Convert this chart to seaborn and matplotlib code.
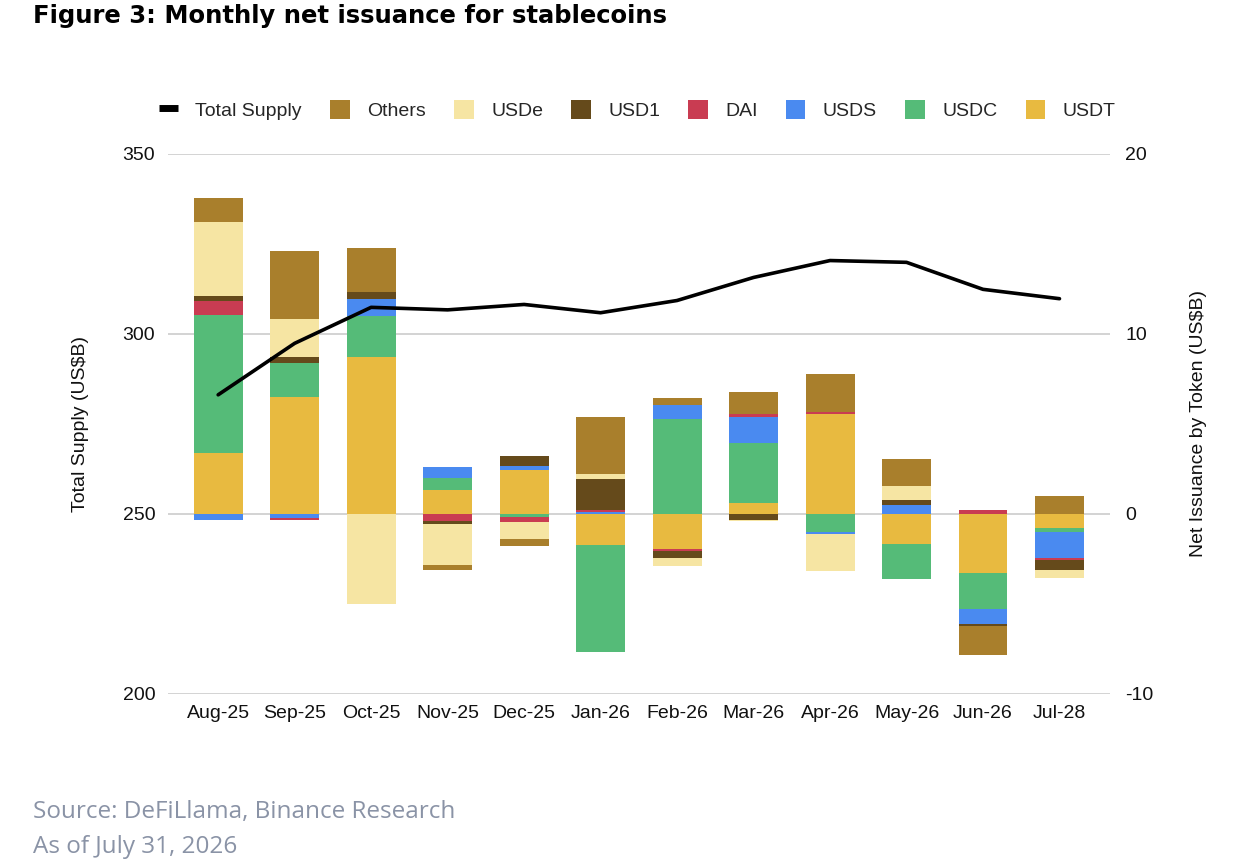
import numpy as np
import pandas as pd
import seaborn as sns
import matplotlib.pyplot as plt
from matplotlib.lines import Line2D
from matplotlib.patches import Patch

months = ['Aug-25', 'Sep-25', 'Oct-25', 'Nov-25', 'Dec-25', 'Jan-26',
          'Feb-26', 'Mar-26', 'Apr-26', 'May-26', 'Jun-26', 'Jul-28']

# net issuance by token (US$B)
usdt = [3.37, 6.52, 8.70, 1.33, 2.46, -1.70, -1.94, 0.63, 5.56, -1.69, -3.28, -0.80]
usdc = [7.70, 1.89, 2.30, 0.67, -0.18, -5.98, 5.28, 3.31, -1.02, -1.91, -2.02, -0.20]
usds = [-0.33, -0.20, 0.94, 0.59, 0.19, 0.13, 0.78, 1.43, -0.09, 0.50, -0.83, -1.43]
dai = [0.78, -0.13, 0.0, -0.37, -0.28, 0.09, -0.11, 0.20, 0.13, 0.0, 0.22, -0.11]
usd1 = [0.28, 0.30, 0.37, -0.20, 0.59, 1.72, -0.37, -0.33, 0.0, 0.30, -0.11, -0.59]
usde = [4.10, 2.11, -5.00, -2.26, -0.93, 0.28, -0.46, -0.07, -2.07, 0.76, 0.0, -0.44]
others = [1.30, 3.80, 2.48, -0.31, -0.41, 3.15, 0.37, 1.22, 2.07, 1.52, -1.61, 0.98]

# total supply (US$B)
supply = [283.1, 297.4, 307.4, 306.7, 308.2, 305.9, 309.3, 315.7, 320.4, 319.9, 312.4, 309.8]

tokens = ['USDT', 'USDC', 'USDS', 'DAI', 'USD1', 'USDe', 'Others']
series = [usdt, usdc, usds, dai, usd1, usde, others]
colors = {'USDT': '#e8ba40', 'USDC': '#55bb78', 'USDS': '#4a8af0', 'DAI': '#c93c52',
          'USD1': '#654a1b', 'USDe': '#f6e5a3', 'Others': '#a97f2c'}

sns.set_theme(style='white')
plt.rcParams['font.family'] = ['Liberation Sans', 'DejaVu Sans']
plt.rcParams['axes.unicode_minus'] = False

fig = plt.figure(figsize=(12.42, 8.68), dpi=100)
ax = fig.add_axes([0.135, 0.2005, 0.7587, 0.6221])
ax2 = ax.twinx()
ax.set_zorder(ax2.get_zorder() + 1)
ax.patch.set_visible(False)

x = np.arange(len(months))
pos_bottom = np.zeros(len(months))
neg_bottom = np.zeros(len(months))
for name, vals in zip(tokens, series):
    vals = np.array(vals)
    pos = np.where(vals > 0, vals, 0)
    neg = np.where(vals < 0, vals, 0)
    ax2.bar(x, pos, bottom=pos_bottom, width=0.64, color=colors[name], linewidth=0)
    ax2.bar(x, neg, bottom=neg_bottom, width=0.64, color=colors[name], linewidth=0)
    pos_bottom += pos
    neg_bottom += neg

df = pd.DataFrame({'x': x, 'supply': supply})
sns.lineplot(data=df, x='x', y='supply', ax=ax, color='black', lw=2.6)

ax.set_ylim(200, 350)
ax.set_yticks([200, 250, 300, 350])
ax2.set_ylim(-10, 20)
ax2.set_yticks([-10, 0, 10, 20])
ax.set_xlim(-0.66, 11.66)
ax.set_xticks(x)
ax.set_xticklabels(months)

ax2.set_axisbelow(True)
ax2.yaxis.grid(True, color='#cccccc', lw=1.2)
ax.grid(False)
for a in (ax, ax2):
    for s in a.spines.values():
        s.set_visible(False)
    a.tick_params(length=0, labelsize=14, colors='#111111')
ax.tick_params(axis='y', pad=9)
ax.tick_params(axis='x', pad=8)
ax2.tick_params(axis='y', pad=11)

ax.set_xlabel('')
ax.set_ylabel('Total Supply (US$B)', fontsize=14, color='#111111')
ax.yaxis.set_label_coords(-0.084, 0.5)
ax2.set_ylabel('Net Issuance by Token (US$B)', fontsize=14, color='#111111', rotation=90)
ax2.yaxis.set_label_coords(1.085, 0.5)

handles = [Line2D([0], [0], color='black', lw=5, solid_capstyle='butt')]
labels = ['Total Supply']
for name in tokens[::-1]:
    handles.append(Patch(facecolor=colors[name], edgecolor='none'))
    labels.append(name)
fig.legend(handles, labels, loc='center', bbox_to_anchor=(637 / 1242, 1 - 110 / 868),
           ncol=8, frameon=False, fontsize=14, handlelength=1.0, handleheight=1.1,
           handletextpad=0.9, columnspacing=1.45)

fig.text(33 / 1242, 1 - 16 / 868, 'Figure 3: Monthly net issuance for stablecoins',
         fontsize=17.5, fontweight='bold', family='DejaVu Sans', color='black',
         va='center', ha='left')
fig.text(33 / 1242, 1 - 812 / 868, 'Source: DeFiLlama, Binance Research',
         fontsize=17.5, color='#8a93a6', family='Open Sans', va='center', ha='left')
fig.text(33 / 1242, 1 - 847 / 868, 'As of July 31, 2026',
         fontsize=17.5, color='#8a93a6', family='Open Sans', va='center', ha='left')

fig.savefig('out.png', dpi=100, facecolor='white')
